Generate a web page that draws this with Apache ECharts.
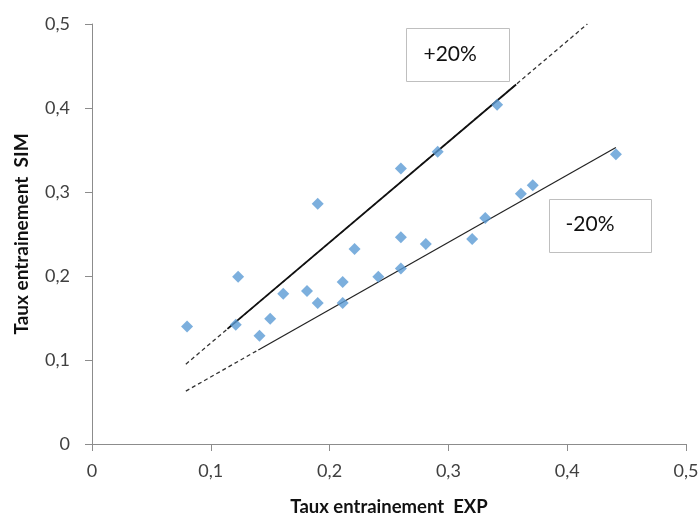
<!DOCTYPE html>
<html>
<head>
<meta charset="utf-8">
<script src="https://cdn.jsdelivr.net/npm/echarts@6/dist/echarts.min.js"></script>
<style>html,body{margin:0;padding:0;background:#fff;}#c{width:700px;height:519px;}</style>
</head>
<body>
<div id="c"></div>
<script>
const expX = [0.080, 0.123, 0.121, 0.141, 0.150, 0.161, 0.181, 0.190, 0.190, 0.211, 0.211, 0.221, 0.241, 0.260, 0.260, 0.260, 0.281, 0.291, 0.320, 0.331, 0.341, 0.361, 0.371, 0.441];
const simY = [0.140, 0.199, 0.142, 0.129, 0.149, 0.179, 0.182, 0.168, 0.286, 0.193, 0.168, 0.232, 0.199, 0.328, 0.246, 0.209, 0.238, 0.348, 0.244, 0.269, 0.404, 0.298, 0.308, 0.345];

const plusDashX = [0.079, 0.417];
const plusDashY = [0.095, 0.500];
const plusSolidX = [0.114, 0.357];
const plusSolidY = [0.137, 0.428];
const minusDashX = [0.079, 0.140];
const minusDashY = [0.063, 0.112];
const minusSolidX = [0.140, 0.441];
const minusSolidY = [0.112, 0.353];

const xTicks = ['0', '0,1', '0,2', '0,3', '0,4', '0,5'];
const yTicks = ['0', '0,1', '0,2', '0,3', '0,4', '0,5'];
const xTitle = 'Taux entrainement  EXP';
const yTitle = 'Taux entrainement  SIM';
const plusLabel = '+20%';
const minusLabel = '-20%';

const zip = (a, b) => a.map((v, i) => [v, b[i]]);
const fmt = (v, ticks) => ticks[Math.round(v * 10)] ?? '';
const FONT = 'Lato, "Open Sans", sans-serif';

const chart = echarts.init(document.getElementById('c'), null, {renderer: 'canvas'});
chart.setOption({
  animation: false,
  backgroundColor: '#fff',
  grid: {left: 92, right: 14, top: 24, bottom: 75, containLabel: false, outerBoundsMode: 'none'},
  xAxis: {
    type: 'value', min: 0, max: 0.5, interval: 0.1,
    name: xTitle, nameLocation: 'middle', nameGap: 54,
    nameTextStyle: {fontFamily: FONT, fontWeight: 'bold', fontSize: 18.5, color: '#111'},
    axisLine: {show: true, lineStyle: {color: '#8c8c8c', width: 1}},
    axisTick: {show: true, inside: false, length: 7, lineStyle: {color: '#8c8c8c'}},
    axisLabel: {formatter: v => fmt(v, xTicks), fontFamily: FONT, fontSize: 18, color: '#404040', margin: 18},
    splitLine: {show: false}
  },
  yAxis: {
    type: 'value', min: 0, max: 0.5, interval: 0.1,
    name: yTitle, nameLocation: 'middle', nameGap: 61, nameRotate: 90,
    nameTextStyle: {fontFamily: FONT, fontWeight: 'bold', fontSize: 19, color: '#111'},
    axisLine: {show: true, lineStyle: {color: '#8c8c8c', width: 1}},
    axisTick: {show: true, inside: false, length: 7, lineStyle: {color: '#8c8c8c'}},
    axisLabel: {formatter: v => fmt(v, yTicks), fontFamily: FONT, fontSize: 18, color: '#404040', margin: 22},
    splitLine: {show: false}
  },
  series: [
    {type: 'line', data: zip(plusDashX, plusDashY), symbol: 'none', silent: true,
     lineStyle: {color: '#333', width: 1.3, type: [4, 3]}},
    {type: 'line', data: zip(minusDashX, minusDashY), symbol: 'none', silent: true,
     lineStyle: {color: '#333', width: 1.3, type: [4, 3]}},
    {type: 'line', data: zip(plusSolidX, plusSolidY), symbol: 'none', silent: true,
     lineStyle: {color: '#111', width: 1.8}},
    {type: 'line', data: zip(minusSolidX, minusSolidY), symbol: 'none', silent: true,
     lineStyle: {color: '#222', width: 1.2}},
    {type: 'scatter', data: zip(expX, simY), symbol: 'diamond', symbolSize: 12,
     itemStyle: {color: '#5B9BD5'}, z: 5}
  ],
  graphic: [
    {type: 'group', left: 406, top: 28, children: [
      {type: 'rect', shape: {x: 0, y: 0, width: 103, height: 53},
       style: {fill: '#fff', stroke: '#bfbfbf', lineWidth: 1}},
      {type: 'text', x: 17, y: 26, style: {text: plusLabel, font: '21px ' + FONT, fill: '#111', verticalAlign: 'middle'}}
    ]},
    {type: 'group', left: 549, top: 199, children: [
      {type: 'rect', shape: {x: 0, y: 0, width: 102, height: 53},
       style: {fill: '#fff', stroke: '#bfbfbf', lineWidth: 1}},
      {type: 'text', x: 16, y: 25, style: {text: minusLabel, font: '21px ' + FONT, fill: '#111', verticalAlign: 'middle'}}
    ]}
  ]
});
</script>
</body>
</html>
